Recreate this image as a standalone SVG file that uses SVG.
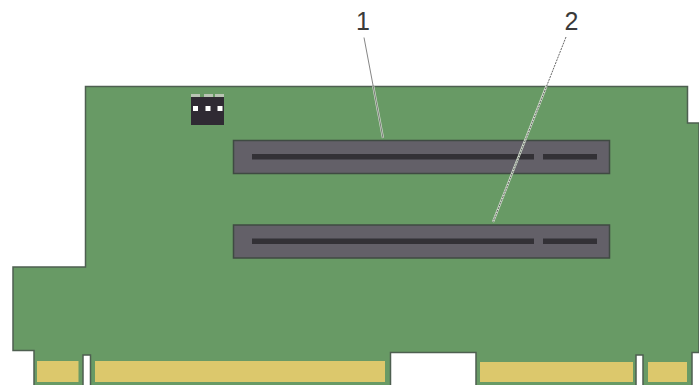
<svg xmlns="http://www.w3.org/2000/svg" width="699" height="385" viewBox="0 0 699 385">
<style>
.gold{fill:#dcc86c}
.slot{fill:#636068;stroke:#3f4a42;stroke-width:1.5}
.bar{fill:#333136}
.label{font-family:"Liberation Sans",Arial,sans-serif;font-size:25px;fill:#3a3a3a}
.lead{fill:none}
.halo{stroke:#d4e0d0;stroke-width:2.2}
.core{stroke:#555;stroke-width:0.9}
</style>
<rect width="699" height="385" fill="#fff"/>
<g id="board">
<path d="M85.500 86.500H687.500V123H699V352.500H692V386H643V355H636V386H476V352.500H390.500V386H90.500V355H83V386H34V350.500H13V267H85.500Z" fill="#689a65" stroke="#4e5f50" stroke-width="1.500"/>
<rect x="37" y="361" width="41.500" height="21" class="gold"/>
<rect x="95" y="361" width="290" height="21" class="gold"/>
<rect x="480" y="362" width="153" height="20" class="gold"/>
<rect x="648" y="362" width="39" height="20" class="gold"/>
</g>
<g id="jumper">
<rect x="191" y="97" width="33" height="28" fill="#2f2a33"/>
<rect x="191" y="94" width="9" height="3" fill="#b9c4b4"/>
<rect x="204" y="94" width="9" height="3" fill="#b9c4b4"/>
<rect x="215" y="94" width="9" height="3" fill="#b9c4b4"/>
<rect x="193" y="106" width="5" height="5" fill="#fff"/>
<rect x="205.500" y="106" width="5" height="5" fill="#fff"/>
<rect x="217.500" y="106" width="5" height="5" fill="#fff"/>
</g>
<g id="slot-1">
<rect x="233.500" y="140.500" width="376" height="33" class="slot"/>
<rect x="252" y="154" width="282" height="5.500" class="bar"/>
<rect x="543" y="154" width="54" height="5.500" class="bar"/>
</g>
<g id="slot-2">
<rect x="233.500" y="225" width="376" height="33" class="slot"/>
<rect x="252" y="238.500" width="282" height="5.500" class="bar"/>
<rect x="543" y="238.500" width="54" height="5.500" class="bar"/>
</g>
<g id="connectors">
<path class="lead halo" d="M373.200 86L383 138"/>
<path class="lead core" d="M364 37.500L383 138" stroke-opacity="0.800"/>
<path class="lead halo" d="M546.500 86L493 222"/>
<path class="lead core" d="M566 37L493 222" stroke-dasharray="2 1"/>
</g>
<g id="label-1"><text class="label" x="363" y="30" text-anchor="middle">1</text></g>
<g id="label-2"><text class="label" x="571.500" y="30" text-anchor="middle">2</text></g>
</svg>
